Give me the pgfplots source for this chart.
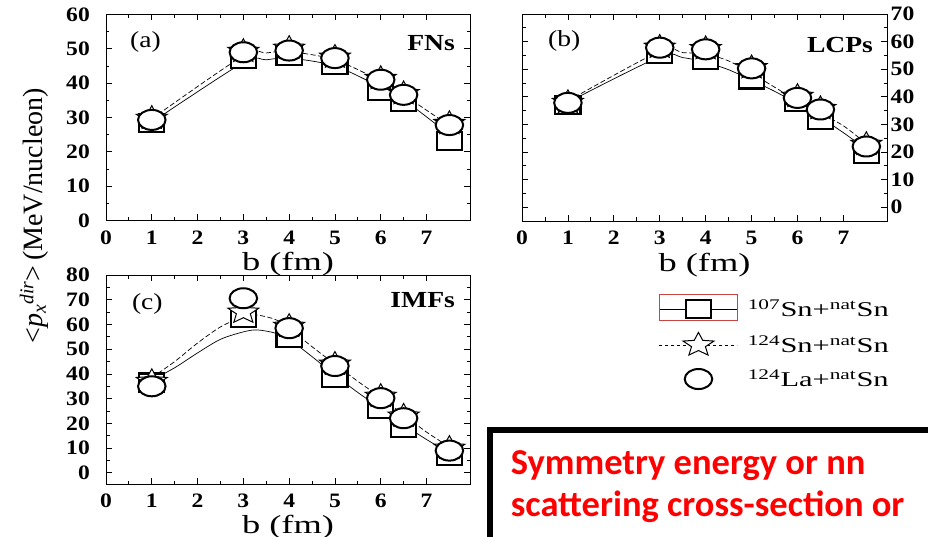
\documentclass[border=0pt]{standalone}
\usepackage{graphicx}
\usepackage{fontspec}
\setmainfont{Liberation Serif}
\newfontfamily\calibri{Carlito}
\usepackage{pgfplots}
\pgfplotsset{compat=1.18}
\usetikzlibrary{plotmarks}

\definecolor{boxred}{RGB}{200,70,66}
\newcommand{\sx}[2][1.2]{\scalebox{#1}[1]{#2}}

% open five-pointed star
\pgfdeclareplotmark{ostar}{%
  \pgfpathmoveto{\pgfqpointpolar{90}{\pgfplotmarksize}}%
  \pgfpathlineto{\pgfqpointpolar{126}{0.45\pgfplotmarksize}}%
  \pgfpathlineto{\pgfqpointpolar{162}{\pgfplotmarksize}}%
  \pgfpathlineto{\pgfqpointpolar{198}{0.45\pgfplotmarksize}}%
  \pgfpathlineto{\pgfqpointpolar{234}{\pgfplotmarksize}}%
  \pgfpathlineto{\pgfqpointpolar{270}{0.45\pgfplotmarksize}}%
  \pgfpathlineto{\pgfqpointpolar{306}{\pgfplotmarksize}}%
  \pgfpathlineto{\pgfqpointpolar{342}{0.45\pgfplotmarksize}}%
  \pgfpathlineto{\pgfqpointpolar{18}{\pgfplotmarksize}}%
  \pgfpathlineto{\pgfqpointpolar{54}{0.45\pgfplotmarksize}}%
  \pgfpathclose
  \pgfusepathqfillstroke}

\tikzset{panellab/.style={font=\fontsize{23bp}{25bp}\selectfont, inner sep=0pt}}

\pgfplotsset{
  panel/.style={
    scale only axis, width=364bp, height=206bp,
    xmin=0, xmax=7.95, xtick={0,...,7}, minor x tick num=1,
    minor y tick num=1,
    tick align=inside, tick pos=both,
    major tick length=6bp, minor tick length=3.5bp,
    axis line style={line width=0.8bp},
    tick style={line width=0.8bp, black},
    /pgf/number format/assume math mode=true,
    ticklabel style={font=\bfseries\fontsize{20.5bp}{22bp}\selectfont, inner sep=0pt},
    xticklabel={\sx[1.15]{\pgfmathprintnumber{\tick}}},
    yticklabel={\sx[1.15]{\pgfmathprintnumber{\tick}}},
    xticklabel style={yshift=-10bp},
    xlabel={\sx[1.4]{b (fm)}},
    xlabel style={font=\fontsize{26bp}{28bp}\selectfont, anchor=base, inner sep=0pt},
  },
  solidline/.style={black, line width=0.7bp, smooth, no marks, forget plot},
  dashline/.style={black, line width=0.7bp, dash pattern=on 5bp off 2.5bp, smooth, no marks, forget plot},
  sqmark/.style={black, mark=square*, mark size=9bp, mark options={solid, xscale=1.4, fill=white, draw=black, line width=2.2bp}},
  starmark/.style={black, mark=ostar, mark size=12.5bp, mark options={solid, xscale=1.3, fill=white, draw=black, line width=1bp}},
  circmark/.style={black, mark=*, mark size=10bp, mark options={solid, xscale=1.375, fill=white, draw=black, line width=2bp}},
}

\begin{document}
\begin{tikzpicture}
\useasboundingbox (0,0) rectangle (928bp,537bp);

% (a) FNs
\begin{axis}[panel, at={(106bp,316.5bp)}, anchor=south west,
  ymin=0, ymax=60, ytick={0,10,...,60},
  yticklabel style={xshift=-16bp},
  xlabel style={at={(axis description cs:0.5,-0.245)}},
  ylabel={{<}\textit{p}\textsubscript{\textit{x}}\textsuperscript{\textit{dir}}{>}\,(MeV/nucleon)},
  ylabel style={font=\fontsize{28bp}{30bp}\selectfont, at={(axis description cs:-0.198,0.022)}, anchor=center, inner sep=0pt},
]
\addplot[solidline] coordinates {(1,28.6)(3,46)(3.5,46.8)(4,47.3)(5,45)(6,38.8)(6.5,35.2)(7.5,25)};
\addplot[dashline] coordinates {(1,29.6)(3,48)(3.5,48.8)(4,49.2)(5,46.8)(6,40.6)(6.5,36.6)(7.5,27.6)};
\addplot[sqmark, only marks, forget plot] coordinates {(1,28.3)(3,47)(4,47.8)(5,45.2)(6,37.8)(6.5,34.4)(7.5,23.2)};
\addplot[starmark, only marks, forget plot] coordinates {(1,29.8)(3,49.3)(4,50.2)(5,47.6)(6,41.4)(6.5,37)(7.5,28.3)};
\addplot[circmark, only marks, forget plot] coordinates {(1,29.3)(3,49)(4,49.5)(5,47.3)(6,41)(6.5,36.6)(7.5,27.8)};
\node[panellab, anchor=west] at (rel axis cs:0.066,0.868) {\sx{(a)}};
\node[panellab, anchor=east, font=\bfseries\fontsize{23bp}{25bp}\selectfont] at (rel axis cs:0.959,0.859) {\sx{FNs}};
\end{axis}

% (b) LCPs
\begin{axis}[panel, at={(522bp,316bp)}, anchor=south west, height=207bp, width=365bp,
  ymin=-5, ymax=70, ytick={0,10,...,70},
  yticklabel pos=right,
  yticklabel style={xshift=3.5bp},
  xlabel style={at={(axis description cs:0.5,-0.242)}},
]
\addplot[solidline] coordinates {(1,38)(3,54.5)(3.5,54.2)(4,52.5)(4.5,49.8)(5,46)(5.5,42)(6,37.5)(6.5,32.5)(7,27)(7.5,21)};
\addplot[dashline] coordinates {(1,38.5)(3,56.5)(3.5,56)(4,55.5)(4.5,53)(5,48.5)(5.5,43.5)(6,38.5)(6.5,34)(7,29.5)(7.5,23)};
\addplot[sqmark, only marks, forget plot] coordinates {(1,37)(3,55.4)(4,53.2)(5,46.3)(6,38)(6.5,31.7)(7.5,19.2)};
\addplot[starmark, only marks, forget plot] coordinates {(1,38)(3,58)(4,57.5)(5,50.6)(6,40.2)(6.5,35.8)(7.5,22.8)};
\addplot[circmark, only marks, forget plot] coordinates {(1,37.8)(3,57.8)(4,57.2)(5,50.3)(6,39.6)(6.5,35.4)(7.5,22)};
\node[panellab, anchor=west] at (rel axis cs:0.071,0.87) {\sx{(b)}};
\node[panellab, anchor=east, font=\bfseries\fontsize{23bp}{25bp}\selectfont] at (rel axis cs:0.962,0.85) {\sx{LCPs}};
\end{axis}

% (c) IMFs
\begin{axis}[panel, at={(106bp,53bp)}, anchor=south west, height=209bp,
  ymin=-4.5, ymax=80, ytick={0,10,...,80},
  yticklabel style={xshift=-16bp},
  xlabel style={at={(axis description cs:0.5,-0.235)}},
  legend style={at={(axis description cs:1.519,0.883)}, anchor=north west, draw=none, fill=none,
    inner sep=0pt, row sep=14bp, column sep=10bp, font=\fontsize{21bp}{24bp}\selectfont,
    cells={anchor=west}, nodes={inner sep=0pt}},
  legend image code/.code={\draw[mark repeat=2,mark phase=2,#1] plot coordinates {(0bp,0bp)(39bp,0bp)(78bp,0bp)};},
]
\addplot[solidline] coordinates {(1,37.5)(1.5,42.5)(2,48.5)(2.5,54)(3,57)(3.3,57.8)(3.7,56.5)(4,54)(4.5,47)(5,39.5)(5.5,32.5)(6,26)(6.5,19.5)(7,13.5)(7.5,8)};
\addplot[dashline] coordinates {(1,38.5)(1.5,45)(2,52.5)(2.5,59)(3,63.2)(3.3,63.8)(3.7,62)(4,58.5)(4.5,51)(5,44)(5.5,37)(6,30.5)(6.5,23.5)(7,16.5)(7.5,10.5)};
\addplot[sqmark, only marks, forget plot] coordinates {(1,36.5)(3,62.5)(4,54.4)(5,38.5)(6,25.7)(6.5,18.3)(7.5,6.9)};
\addplot[starmark, only marks, forget plot] coordinates {(1,37)(3,65)(4,59.3)(5,44)(6,31)(6.5,23)(7.5,10)};
\addplot[circmark, only marks, forget plot] coordinates {(1,35)(3,70.6)(4,58.5)(5,43.2)(6,30.2)(6.5,22.1)(7.5,9)};
\addlegendimage{black, line width=0.7bp, sqmark}
\addlegendentry{\sx[1.45]{\textsuperscript{107}Sn+\textsuperscript{nat}Sn}}
\addlegendimage{black, line width=0.7bp, dash pattern=on 3bp off 3bp, starmark}
\addlegendentry{\sx[1.45]{\textsuperscript{124}Sn+\textsuperscript{nat}Sn}}
\addlegendimage{only marks, circmark}
\addlegendentry{\sx[1.45]{\textsuperscript{124}La+\textsuperscript{nat}Sn}}
\node[panellab, anchor=west] at (rel axis cs:0.071,0.861) {\sx{(c)}};
\node[panellab, anchor=east, font=\bfseries\fontsize{23bp}{25bp}\selectfont] at (rel axis cs:0.959,0.88) {\sx{IMFs}};
\end{axis}

% red frame around the first legend entry
\draw[boxred, line width=1bp] (659bp,242bp) rectangle (737bp,216bp);

% text box
\draw[black, line width=6bp] (490bp,-20bp) |- (960bp,107bp);
\node[anchor=base west, inner sep=0pt, text=red, font=\calibri\bfseries\fontsize{36.5bp}{42bp}\selectfont] at (510.7bp,62bp) {Symmetry energy or nn};
\node[anchor=base west, inner sep=0pt, text=red, font=\calibri\bfseries\fontsize{36.5bp}{42bp}\selectfont] at (510.7bp,20.3bp) {scattering cross-section or};
\end{tikzpicture}
\end{document}
